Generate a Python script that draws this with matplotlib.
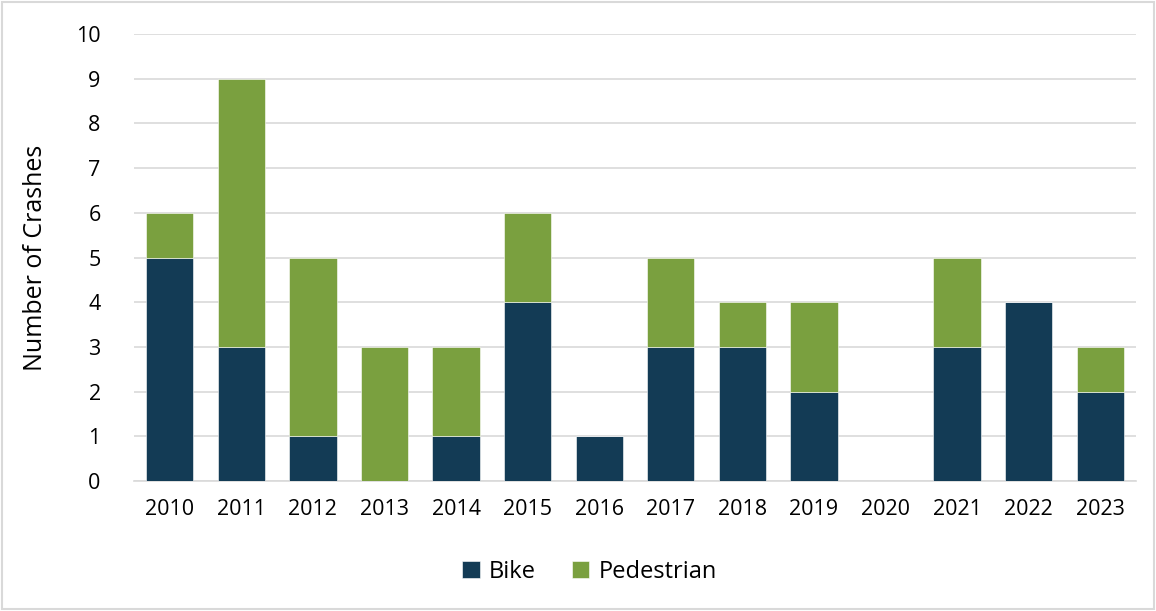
import matplotlib
matplotlib.use('Agg')
import matplotlib.pyplot as plt
import numpy as np

years = ['2010', '2011', '2012', '2013', '2014', '2015', '2016',
         '2017', '2018', '2019', '2020', '2021', '2022', '2023']
bike = [5, 3, 1, 0, 1, 4, 1, 3, 3, 2, 0, 3, 4, 2]
pedestrian = [1, 6, 4, 3, 2, 2, 0, 2, 1, 2, 0, 2, 0, 1]

plt.rcParams['font.family'] = ['Open Sans', 'DejaVu Sans']

fig = plt.figure(figsize=(11.56, 6.11), dpi=100)
ax = fig.add_axes([134 / 1156, 1 - 481 / 611, (1136 - 134) / 1156, (481 - 34) / 611])

x = np.arange(len(years))
ax.bar(x, bike, width=0.66, color='#133B55', edgecolor='white', linewidth=0.4,
       label='Bike', zorder=3)
ax.bar(x, pedestrian, width=0.66, bottom=bike, color='#7AA03F', edgecolor='white',
       linewidth=0.4, label='Pedestrian', zorder=3)

ax.set_xlim(-0.5, len(years) - 0.5)
ax.set_ylim(0, 10)
ax.set_yticks(range(11))
ax.set_xticks(x, years)
ax.tick_params(axis='both', length=0, labelsize=15.5)
ax.tick_params(axis='x', pad=13)
ax.tick_params(axis='y', pad=24)
ax.grid(axis='y', color='#D9D9D9', linewidth=1.2, zorder=0)
for s in ['top', 'right', 'left']:
    ax.spines[s].set_visible(False)
ax.spines['bottom'].set_color('#D9D9D9')
ax.spines['bottom'].set_linewidth(1.2)
ax.set_ylabel('Number of Crashes', fontsize=18, labelpad=20)

fig.legend(loc='center', bbox_to_anchor=(0.51, 0.064), ncol=2, frameon=False,
           fontsize=17, handlelength=0.75, handleheight=0.75, columnspacing=1.5,
           handletextpad=0.4)

fig.patches.append(plt.Rectangle((0.002, 0.003), 0.996, 0.994, transform=fig.transFigure,
                                 fill=False, edgecolor='#D9D9D9', linewidth=1.5))

fig.savefig('out.png', dpi=100)
